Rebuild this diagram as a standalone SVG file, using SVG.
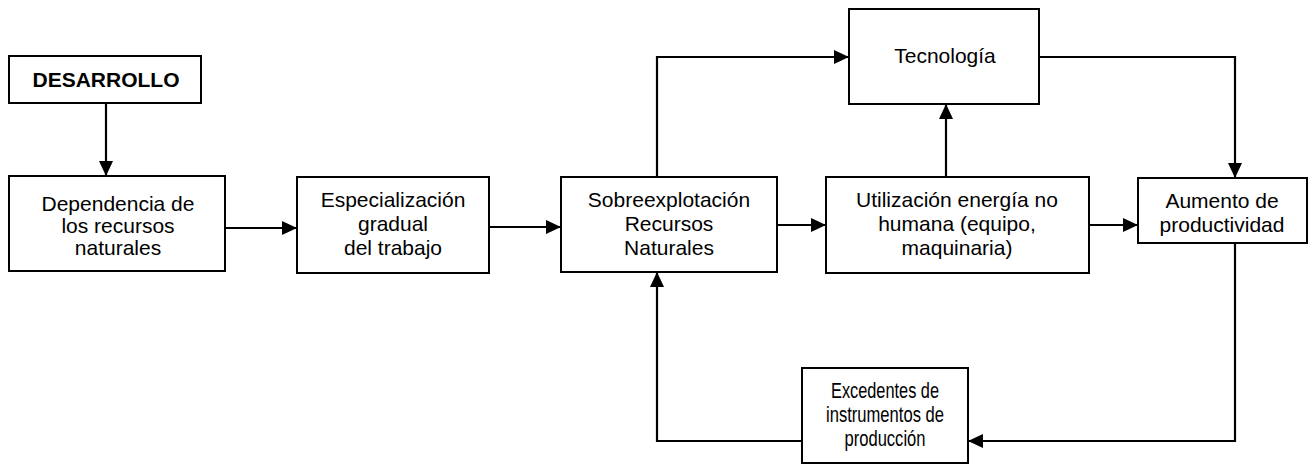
<svg xmlns="http://www.w3.org/2000/svg" width="1313" height="464" viewBox="0 0 1313 464">
<style>
.box{fill:#fff;stroke:#000;stroke-width:2}
.t{font-family:"Liberation Sans",Arial,sans-serif;font-size:21px;fill:#000;text-anchor:middle}
.b{font-weight:bold}
.c{fill:none;stroke:#000;stroke-width:2.2}
</style>
<defs>
<marker id="ah" markerUnits="userSpaceOnUse" markerWidth="16" markerHeight="15" refX="15" refY="7" orient="auto">
<path d="M0,0 L15,7 L0,14 z" fill="#000"/>
</marker>
</defs>
<rect width="1313" height="464" fill="#fff"/>
<g id="connectors">
<path class="c" d="M106,103 V176" marker-end="url(#ah)"/>
<path class="c" d="M225,228 H297" marker-end="url(#ah)"/>
<path class="c" d="M489,227 H561" marker-end="url(#ah)"/>
<path class="c" d="M657,177 V57 H849" marker-end="url(#ah)"/>
<path class="c" d="M777,225 H826" marker-end="url(#ah)"/>
<path class="c" d="M946,177 V104" marker-end="url(#ah)"/>
<path class="c" d="M1089,225 H1138" marker-end="url(#ah)"/>
<path class="c" d="M1039,57 H1235 V178" marker-end="url(#ah)"/>
<path class="c" d="M1235,243 V441 H968" marker-end="url(#ah)"/>
<path class="c" d="M802,441 H657 V272" marker-end="url(#ah)"/>
</g>
<g id="desarrollo">
<rect class="box" x="9" y="56" width="192" height="47"/>
<text class="t b" x="106" y="87">DESARROLLO</text>
</g>
<g id="dependencia">
<rect class="box" x="9" y="176" width="216" height="95"/>
<text class="t" x="118" y="211">Dependencia de</text>
<text class="t" x="118" y="233">los recursos</text>
<text class="t" x="118" y="255">naturales</text>
</g>
<g id="especializacion">
<rect class="box" x="297" y="177" width="192" height="96"/>
<text class="t" x="393" y="207">Especialización</text>
<text class="t" x="393" y="231">gradual</text>
<text class="t" x="393" y="255">del trabajo</text>
</g>
<g id="sobreexplotacion">
<rect class="box" x="561" y="177" width="216" height="95"/>
<text class="t" x="669" y="207">Sobreexplotación</text>
<text class="t" x="669" y="231">Recursos</text>
<text class="t" x="669" y="255">Naturales</text>
</g>
<g id="tecnologia">
<rect class="box" x="849" y="9" width="190" height="95"/>
<text class="t" x="945" y="63">Tecnología</text>
</g>
<g id="utilizacion">
<rect class="box" x="826" y="177" width="263" height="96"/>
<text class="t" x="957" y="207">Utilización energía no</text>
<text class="t" x="957" y="231">humana (equipo,</text>
<text class="t" x="957" y="255">maquinaria)</text>
</g>
<g id="aumento">
<rect class="box" x="1138" y="178" width="169" height="65"/>
<text class="t" x="1222" y="208">Aumento de</text>
<text class="t" x="1222" y="232">productividad</text>
</g>
<g id="excedentes">
<rect class="box" x="802" y="368" width="166" height="95"/>
<text class="t" x="885" y="398" style="font-size:22px" textLength="108" lengthAdjust="spacingAndGlyphs">Excedentes de</text>
<text class="t" x="885" y="422" style="font-size:22px" textLength="118" lengthAdjust="spacingAndGlyphs">instrumentos de</text>
<text class="t" x="885" y="446" style="font-size:22px" textLength="81" lengthAdjust="spacingAndGlyphs">producción</text>
</g>
</svg>
